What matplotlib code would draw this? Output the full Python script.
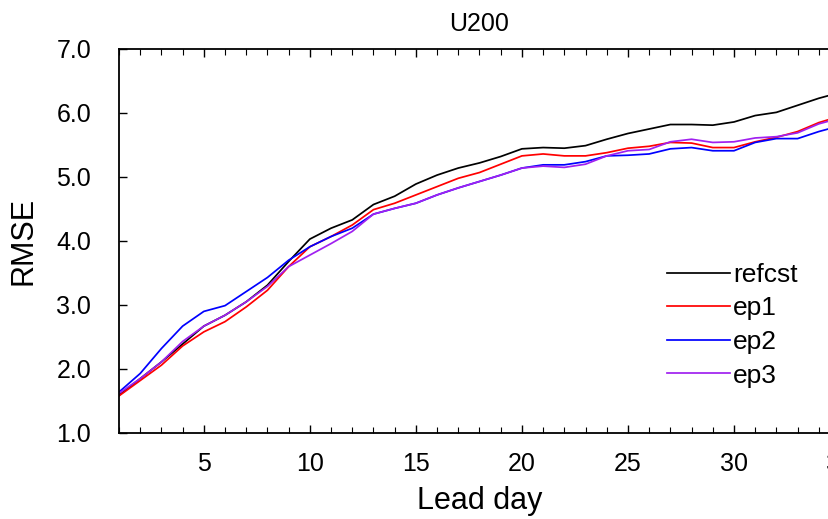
import matplotlib
matplotlib.use("Agg")
import matplotlib.pyplot as plt
from matplotlib.ticker import MultipleLocator, FormatStrFormatter

plt.rcParams['font.family'] = ['Liberation Sans', 'DejaVu Sans']

days = list(range(1, 36))
refcst = [1.59, 1.85, 2.11, 2.39, 2.67, 2.84, 3.05, 3.31, 3.68, 4.03,
          4.20, 4.33, 4.57, 4.70, 4.89, 5.03, 5.14, 5.22, 5.32, 5.44,
          5.46, 5.45, 5.49, 5.59, 5.68, 5.75, 5.82, 5.82, 5.81, 5.86,
          5.96, 6.01, 6.12, 6.23, 6.32]
ep1 = [1.58, 1.82, 2.06, 2.36, 2.58, 2.74, 2.97, 3.23, 3.60, 3.91,
       4.07, 4.25, 4.49, 4.59, 4.72, 4.85, 4.98, 5.07, 5.20, 5.33,
       5.36, 5.33, 5.33, 5.38, 5.45, 5.48, 5.54, 5.53, 5.46, 5.46,
       5.55, 5.62, 5.71, 5.85, 5.95]
ep2 = [1.64, 1.93, 2.32, 2.67, 2.90, 2.99, 3.21, 3.43, 3.70, 3.91,
       4.07, 4.20, 4.42, 4.51, 4.59, 4.72, 4.83, 4.93, 5.03, 5.14,
       5.19, 5.19, 5.24, 5.33, 5.34, 5.36, 5.44, 5.46, 5.41, 5.41,
       5.54, 5.60, 5.60, 5.71, 5.80]
ep3 = [1.62, 1.85, 2.11, 2.43, 2.67, 2.84, 3.05, 3.29, 3.60, 3.78,
       3.96, 4.15, 4.42, 4.51, 4.59, 4.72, 4.83, 4.93, 5.03, 5.14,
       5.17, 5.15, 5.20, 5.33, 5.41, 5.43, 5.55, 5.59, 5.54, 5.55,
       5.61, 5.63, 5.69, 5.83, 5.92]

series = [("refcst", refcst, "black"),
          ("ep1", ep1, "#ff0000"),
          ("ep2", ep2, "#0000ff"),
          ("ep3", ep3, "#a020f0")]

W, H = 829, 519
fig = plt.figure(figsize=(W / 100, H / 100), dpi=100)
L, R, T, B = 119, 840, 49, 433
ax = fig.add_axes([L / W, (H - B) / H, (R - L) / W, (B - T) / H])

for name, vals, col in series:
    ax.plot(days, vals, color=col, lw=1.25, label=name)

ax.set_xlim(1, 35)
ax.set_ylim(1.0, 7.0)
ax.xaxis.set_major_locator(MultipleLocator(5))
ax.xaxis.set_minor_locator(MultipleLocator(1))
ax.yaxis.set_major_locator(MultipleLocator(1.0))
ax.yaxis.set_major_formatter(FormatStrFormatter('%.1f'))

ax.tick_params(axis='x', which='both', direction='in', top=True, bottom=True,
               labelsize=18, pad=14)
ax.tick_params(axis='x', which='major', length=6, width=1.0)
ax.tick_params(axis='x', which='minor', length=4, width=0.8)
ax.tick_params(axis='y', which='major', direction='in', left=True, right=True,
               length=6, width=1.0, labelsize=18, pad=20)
for s in ax.spines.values():
    s.set_linewidth(1.3)

ax.set_title("U200", fontsize=18, pad=13)
ax.set_xlabel("Lead day", fontsize=22)
ax.xaxis.set_label_coords(0.5, -0.138)
ax.set_ylabel("RMSE", fontsize=22)
ax.yaxis.set_label_coords(-0.111, 0.5)

leg = ax.legend(loc='upper left', bbox_to_anchor=(667 / W, 1 - 263 / H),
                bbox_transform=fig.transFigure, frameon=False, fontsize=19,
                handlelength=2.4, handletextpad=0.1, labelspacing=0.36,
                borderpad=0, borderaxespad=0)

fig.savefig("out.png", dpi=100)
